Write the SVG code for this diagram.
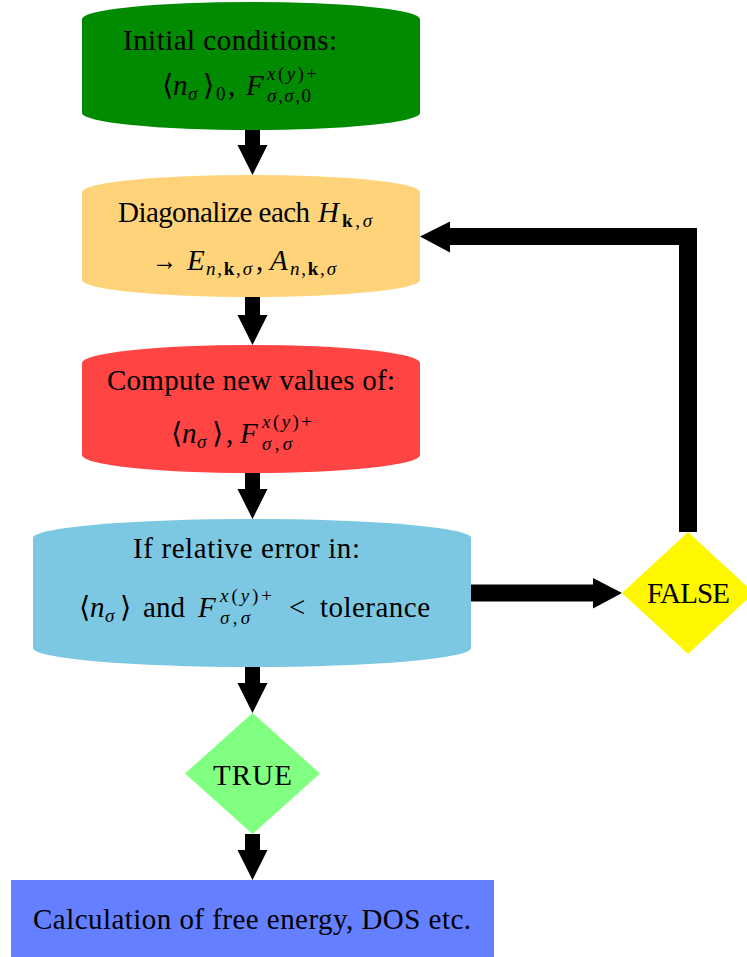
<svg xmlns="http://www.w3.org/2000/svg" width="747" height="957" viewBox="0 0 747 957">
<style>
text{font-family:"Liberation Serif","DejaVu Serif",serif;fill:#000;}
.m{font-size:29px;}
.s{font-size:19px;}
.i{font-style:italic;}
.b{font-weight:bold;font-style:normal;}
.arrow{fill:#000;}
</style>
<rect width="747" height="957" fill="#fff"/>
<g id="connectors">
<polygon class="arrow" points="245,130 260,130 260,145 267.5,145 252.5,175 237.5,145 245,145"/>
<polygon class="arrow" points="245,297 260,297 260,315 267.5,315 252.5,345 237.5,315 245,315"/>
<polygon class="arrow" points="245,473 260,473 260,489 267.5,489 252.5,519 237.5,489 245,489"/>
<polygon class="arrow" points="245,667 260,667 260,683 267.5,683 252.5,713 237.5,683 245,683"/>
<polygon class="arrow" points="245,834 260,834 260,850 267.5,850 252.5,880 237.5,850 245,850"/>
<polygon class="arrow" points="471,584.5 593,584.5 593,578 622,593 593,608.5 593,601.5 471,601.5"/>
<polygon class="arrow" points="679,532 679,245 450,245 450,252.5 420,236.5 450,221.5 450,228 697,228 697,532"/>
</g>
<g id="init">
<path d="M82,19 A169,17 0 0 1 420,19 L420,113 A169,17 0 0 1 82,113 Z" fill="#008B00"/>
<text class="m" x="123" y="50" textLength="214" lengthAdjust="spacing">Initial conditions:</text>
<text class="m" x="162" y="95">⟨</text>
<text class="m i" x="173" y="95">n</text>
<text class="s i" x="188" y="100">σ</text>
<text class="m" x="203" y="95">⟩</text>
<text class="s" x="216" y="100">0</text>
<text class="m" x="228" y="95">,</text>
<text class="m i" x="246" y="95">F</text>
<text class="s" x="267" y="80" textLength="50" lengthAdjust="spacing"><tspan class="i">x</tspan>(<tspan class="i">y</tspan>)+</text>
<text class="s" x="267" y="102" textLength="44" lengthAdjust="spacing"><tspan class="i">σ</tspan>,<tspan class="i">σ</tspan>,0</text>
</g>
<g id="diag">
<path d="M82,192 A169,17 0 0 1 420,192 L420,280 A169,17 0 0 1 82,280 Z" fill="#FFD37A"/>
<text class="m" x="118" y="222" textLength="192" lengthAdjust="spacing">Diagonalize each</text>
<text class="m i" x="318" y="222">H</text>
<text class="s" x="342" y="227" textLength="30" lengthAdjust="spacing"><tspan class="b">k</tspan>,<tspan class="i">σ</tspan></text>
<text class="m" x="152" y="270" textLength="25" lengthAdjust="spacingAndGlyphs">→</text>
<text class="m i" x="187" y="270">E</text>
<text class="s" x="206" y="275" textLength="46" lengthAdjust="spacing"><tspan class="i">n</tspan>,<tspan class="b">k</tspan>,<tspan class="i">σ</tspan></text>
<text class="m" x="256" y="270">,</text>
<text class="m i" x="270" y="270">A</text>
<text class="s" x="290" y="275" textLength="46" lengthAdjust="spacing"><tspan class="i">n</tspan>,<tspan class="b">k</tspan>,<tspan class="i">σ</tspan></text>
</g>
<g id="compute">
<path d="M82,363 A169,18 0 0 1 420,363 L420,455 A169,18 0 0 1 82,455 Z" fill="#FF4444"/>
<text class="m" x="107" y="390" textLength="288" lengthAdjust="spacing">Compute new values of:</text>
<text class="m" x="171" y="443">⟨</text>
<text class="m i" x="182" y="443">n</text>
<text class="s i" x="197" y="448">σ</text>
<text class="m" x="212" y="443">⟩</text>
<text class="m" x="226" y="443">,</text>
<text class="m i" x="240" y="443">F</text>
<text class="s" x="262" y="428" textLength="50" lengthAdjust="spacing"><tspan class="i">x</tspan>(<tspan class="i">y</tspan>)+</text>
<text class="s" x="262" y="450" textLength="30" lengthAdjust="spacing"><tspan class="i">σ</tspan>,<tspan class="i">σ</tspan></text>
</g>
<g id="check">
<path d="M33,538 A219,19 0 0 1 471,538 L471,648 A219,19 0 0 1 33,648 Z" fill="#7CC8E2"/>
<text class="m" x="133" y="558" textLength="227" lengthAdjust="spacing">If relative error in:</text>
<text class="m" x="79" y="617">⟨</text>
<text class="m i" x="90" y="617">n</text>
<text class="s i" x="105" y="622">σ</text>
<text class="m" x="120" y="617">⟩</text>
<text class="m" x="143" y="617" textLength="42" lengthAdjust="spacing">and</text>
<text class="m i" x="198" y="617">F</text>
<text class="s" x="220" y="602" textLength="52" lengthAdjust="spacing"><tspan class="i">x</tspan>(<tspan class="i">y</tspan>)+</text>
<text class="s" x="220" y="624" textLength="30" lengthAdjust="spacing"><tspan class="i">σ</tspan>,<tspan class="i">σ</tspan></text>
<text class="m" x="289" y="617">&lt;</text>
<text class="m" x="320" y="617" textLength="110" lengthAdjust="spacing">tolerance</text>
</g>
<g id="false">
<polygon points="622,593 688,532 754,593 688,654" fill="#FFF700"/>
<text class="m" x="647" y="603" textLength="83" lengthAdjust="spacing">FALSE</text>
</g>
<g id="true">
<polygon points="185,773.5 252.5,713 320,773.5 252.5,834" fill="#80FF80"/>
<text class="m" x="213" y="785" textLength="79" lengthAdjust="spacing">TRUE</text>
</g>
<g id="final">
<rect x="11" y="880" width="483" height="77" fill="#647FFF"/>
<text class="m" x="33" y="929" textLength="438" lengthAdjust="spacing">Calculation of free energy, DOS etc.</text>
</g>
</svg>
